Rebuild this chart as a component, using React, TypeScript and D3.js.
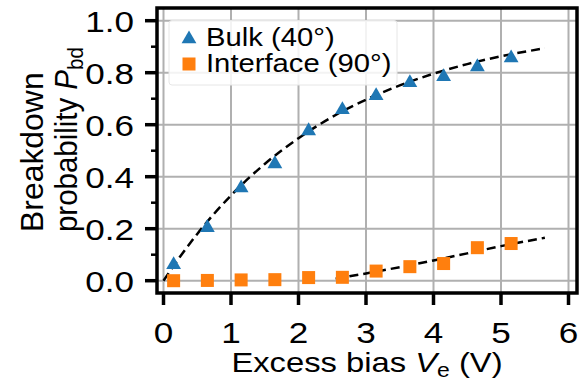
import React from "react";
import * as d3 from "d3";

const xVals = [0.15, 0.65, 1.15, 1.65, 2.15, 2.65, 3.15, 3.65, 4.15, 4.65, 5.15];
const bulkVals = [0.067, 0.21, 0.362, 0.455, 0.582, 0.663, 0.717, 0.767, 0.79, 0.828, 0.862];
const ifaceVals = [0.0, 0.001, 0.003, 0.004, 0.012, 0.013, 0.037, 0.054, 0.066, 0.127, 0.143];

const bulkFitX = [0, 0.25, 0.5, 1, 1.5, 2, 2.5, 3, 3.5, 4, 4.5, 5, 5.65];
const bulkFitY = [0, 0.094, 0.18, 0.328, 0.449, 0.548, 0.63, 0.696, 0.751, 0.796, 0.833, 0.863, 0.894];
const ifaceFitX = [2.55, 3, 3.5, 4, 4.5, 5, 5.65];
const ifaceFitY = [0.008, 0.028, 0.052, 0.078, 0.105, 0.133, 0.165];

const xTicks = [0, 1, 2, 3, 4, 5, 6];
const yTicks = [0, 0.2, 0.4, 0.6, 0.8, 1.0];
const yMinor = [0.1, 0.3, 0.5, 0.7, 0.9];

const legendLabels = ["Bulk (40°)", "Interface (90°)"];

const W = 584;
const H = 380;
const FONT = "'Liberation Sans', Arial, Helvetica, sans-serif";
const FS_TICK = 30;
const FS_LABEL = 28;
const FS_YLAB = 31;
const FS_LEG = 25;
const BLUE = "#1f77b4";
const ORANGE = "#ff7f0e";

function T(props: { x: number; y: number; rot?: boolean; sx?: number; anchor?: string; fs: number; dy?: string; children: React.ReactNode }) {
  const sx = props.sx ?? 1.17;
  const tr = props.rot
    ? `translate(${props.x},${props.y}) rotate(-90) scale(${sx},1)`
    : `translate(${props.x},${props.y}) scale(${sx},1)`;
  return (
    <text transform={tr} x={0} y={0} dy={props.dy} textAnchor={props.anchor || "start"} fontSize={props.fs} fill="#000">
      {props.children}
    </text>
  );
}

export default function App() {
  const frame = { left: 157, right: 577, top: 8, bottom: 293 };
  const x = d3.scaleLinear().domain([0, 6]).range([163.5, 568.5]);
  const y = d3.scaleLinear().domain([0, 1]).range([280.7, 20.7]);

  const line = d3
    .line<[number, number]>()
    .x((d) => x(d[0]))
    .y((d) => y(d[1]))
    .curve(d3.curveMonotoneX);

  const bulkFit = line(bulkFitX.map((v, i) => [v, bulkFitY[i]]) as [number, number][]) || "";
  const ifaceFit = line(ifaceFitX.map((v, i) => [v, ifaceFitY[i]]) as [number, number][]) || "";

  const tri = d3.symbol().type(d3.symbolTriangle).size(95)() || "";
  const sq = 13;

  return (
    <svg width={W} height={H} style={{ position: "absolute", left: 0, top: 0, background: "#fff" }} fontFamily={FONT}>
      <rect x={0} y={0} width={W} height={H} fill="#fff" />
      <defs>
        <clipPath id="plotclip">
          <rect x={frame.left} y={frame.top} width={frame.right - frame.left} height={frame.bottom - frame.top} />
        </clipPath>
      </defs>
      {/* grid */}
      <g stroke="#b0b0b0" strokeWidth={2}>
        {xTicks.map((t) => (
          <line key={"gx" + t} x1={x(t)} x2={x(t)} y1={frame.top} y2={frame.bottom} />
        ))}
        {yTicks.map((t) => (
          <line key={"gy" + t} x1={frame.left} x2={frame.right} y1={y(t)} y2={y(t)} />
        ))}
      </g>
      {/* fits */}
      <g clipPath="url(#plotclip)" fill="none" stroke="#000" strokeWidth={2.5} strokeDasharray="9,5">
        <path d={bulkFit} />
        <path d={ifaceFit} />
      </g>
      {/* markers */}
      <g clipPath="url(#plotclip)">
        {xVals.map((v, i) => (
          <path key={"b" + i} d={tri} transform={`translate(${x(v)},${y(bulkVals[i]) + 1.5})`} fill={BLUE} />
        ))}
        {xVals.map((v, i) => (
          <rect key={"s" + i} x={x(v) - sq / 2} y={y(ifaceVals[i]) - sq / 2} width={sq} height={sq} fill={ORANGE} />
        ))}
      </g>
      {/* legend */}
      <g>
        <rect x={169} y={20.5} width={228} height={64.5} fill="#fff" fillOpacity={0.85} stroke="#e6e6e6" strokeWidth={1} rx={3} />
        <path d={tri} transform={`translate(189,39)`} fill={BLUE} />
        <rect x={189 - sq / 2} y={64 - sq / 2} width={sq} height={sq} fill={ORANGE} />
        <T x={206} y={46} fs={FS_LEG}>{legendLabels[0]}</T>
        <T x={206} y={72} fs={FS_LEG}>{legendLabels[1]}</T>
      </g>
      {/* frame */}
      <rect x={frame.left} y={frame.top} width={frame.right - frame.left} height={frame.bottom - frame.top} fill="none" stroke="#000" strokeWidth={3.5} />
      {/* x ticks */}
      <g>
        {xTicks.map((t) => (
          <g key={"xt" + t}>
            <line x1={x(t)} x2={x(t)} y1={frame.bottom} y2={frame.bottom + 12} stroke="#000" strokeWidth={3.5} />
            <T x={x(t)} y={343} anchor="middle" fs={FS_TICK}>{String(t)}</T>
          </g>
        ))}
      </g>
      {/* y ticks */}
      <g>
        {yTicks.map((t) => (
          <g key={"yt" + t}>
            <line x1={frame.left - 12} x2={frame.left} y1={y(t)} y2={y(t)} stroke="#000" strokeWidth={3.5} />
            <T x={134} y={y(t)} dy="0.36em" anchor="end" fs={FS_TICK}>{d3.format(".1f")(t)}</T>
          </g>
        ))}
        {yMinor.map((t) => (
          <line key={"ym" + t} x1={frame.left - 6} x2={frame.left} y1={y(t)} y2={y(t)} stroke="#000" strokeWidth={2.5} />
        ))}
      </g>
      {/* x label */}
      <T x={367} y={372} anchor="middle" fs={FS_LABEL}>
        Excess bias <tspan fontStyle="italic">V</tspan>
        <tspan fontSize={FS_LABEL * 0.7} dy={5}>e</tspan>
        <tspan dy={-5}> (V)</tspan>
      </T>
      {/* y label */}
      <T x={43} y={232} rot sx={1.03} fs={FS_YLAB}>Breakdown</T>
      <T x={77} y={232} rot sx={0.95} fs={FS_YLAB}>
        probability <tspan fontStyle="italic">P</tspan>
        <tspan fontSize={FS_YLAB * 0.7} dy={6}>bd</tspan>
      </T>
    </svg>
  );
}
